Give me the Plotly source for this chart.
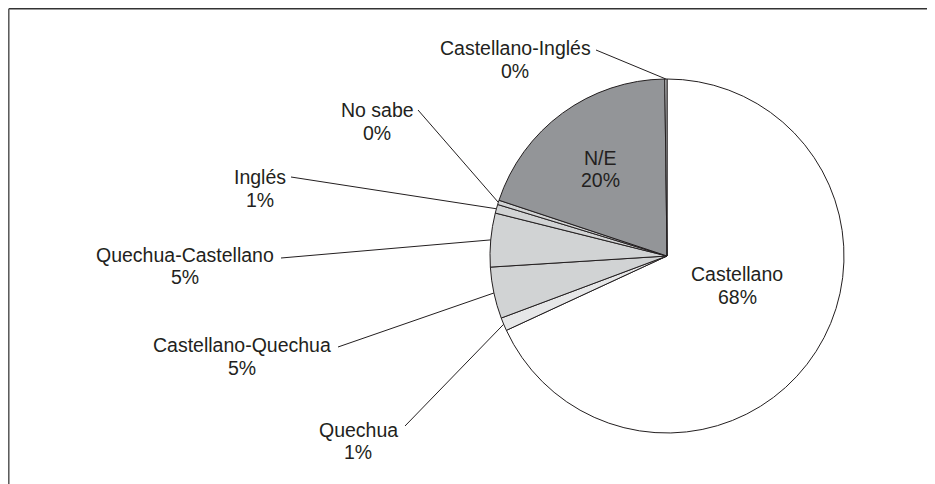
import math
import plotly.graph_objects as go

# ---- data ----
labels = ["Castellano", "Quechua", "Castellano-Quechua", "Quechua-Castellano",
          "Inglés", "No sabe", "N/E", "Castellano-Inglés"]
values = [68.1, 1.2, 4.7, 4.9, 0.8, 0.4, 19.7, 0.2]
colors = ["#ffffff", "#e6e7e8", "#d1d3d4", "#d1d3d4",
          "#d1d3d4", "#d1d3d4", "#939598", "#d1d3d4"]

OFF = 8                      # page body margin
W, H = 935 - OFF, 484 - OFF  # figure size
CX, CY, R = 667, 256, 177    # pie centre / radius (screen pixels)

def px2paper(x, y):
    return (x - OFF) / W, 1 - (y - OFF) / H

x0, y1 = px2paper(CX - R, CY - R)
x1, y0 = px2paper(CX + R, CY + R)

fig = go.Figure(go.Pie(
    labels=labels, values=values, sort=False, direction="clockwise", rotation=0,
    marker=dict(colors=colors, line=dict(color="#231f20", width=1)),
    textinfo="none", hoverinfo="label+percent", showlegend=False,
    domain=dict(x=[x0, x1], y=[y0, y1]),
))

total = sum(values)
pcts = [f"{round(v / total * 100)}%" for v in values]

# label layout: name-line centre (x, y), percent-line y, leader start (x, y) or None
label_layout = {
    "Castellano":         (737, 274, 297, None),
    "Quechua":            (358, 430, 452, (405, 426)),
    "Castellano-Quechua": (242, 345, 368, (338, 347)),
    "Quechua-Castellano": (185, 255, 277, (281, 258)),
    "Inglés":             (260, 177, 200, (291, 177)),
    "No sabe":            (377, 110, 133, (418, 110)),
    "N/E":                (600, 158, 180, None),
    "Castellano-Inglés":  (515, 48, 71, (596, 50)),
}

font = dict(family="Liberation Sans, Arial, sans-serif", size=19.5, color="#231f20")
annotations = []
shapes = []
cum = 0.0
for lab, v, p in zip(labels, values, pcts):
    mid = 2 * math.pi * (cum + v / 2) / total
    cum += v
    ex, ey = CX + R * math.sin(mid), CY - R * math.cos(mid)
    x, ya, yb, start = label_layout[lab]
    for txt, yy in ((lab, ya), (p, yb)):
        px, py = px2paper(x, yy)
        annotations.append(dict(x=px, y=py, xref="paper", yref="paper", text=txt,
                                showarrow=False, font=font, xanchor="center", yanchor="middle"))
    if start is not None:
        sx, sy = px2paper(*start)
        qx, qy = px2paper(ex, ey)
        shapes.append(dict(type="line", xref="paper", yref="paper", x0=sx, y0=sy, x1=qx, y1=qy,
                           line=dict(color="#231f20", width=1)))

# frame (top and left edges)
fx, fy = 0.8 / W, 1 - 0.8 / H
shapes.append(dict(type="line", xref="paper", yref="paper", x0=fx, y0=fy, x1=1, y1=fy,
                   line=dict(color="#333333", width=1.5)))
shapes.append(dict(type="line", xref="paper", yref="paper", x0=fx, y0=fy, x1=fx, y1=0,
                   line=dict(color="#555555", width=1.5)))

fig.update_layout(width=W, height=H, margin=dict(l=0, r=0, t=0, b=0),
                  paper_bgcolor="white", plot_bgcolor="white",
                  annotations=annotations, shapes=shapes)
fig.write_html("out.html")
